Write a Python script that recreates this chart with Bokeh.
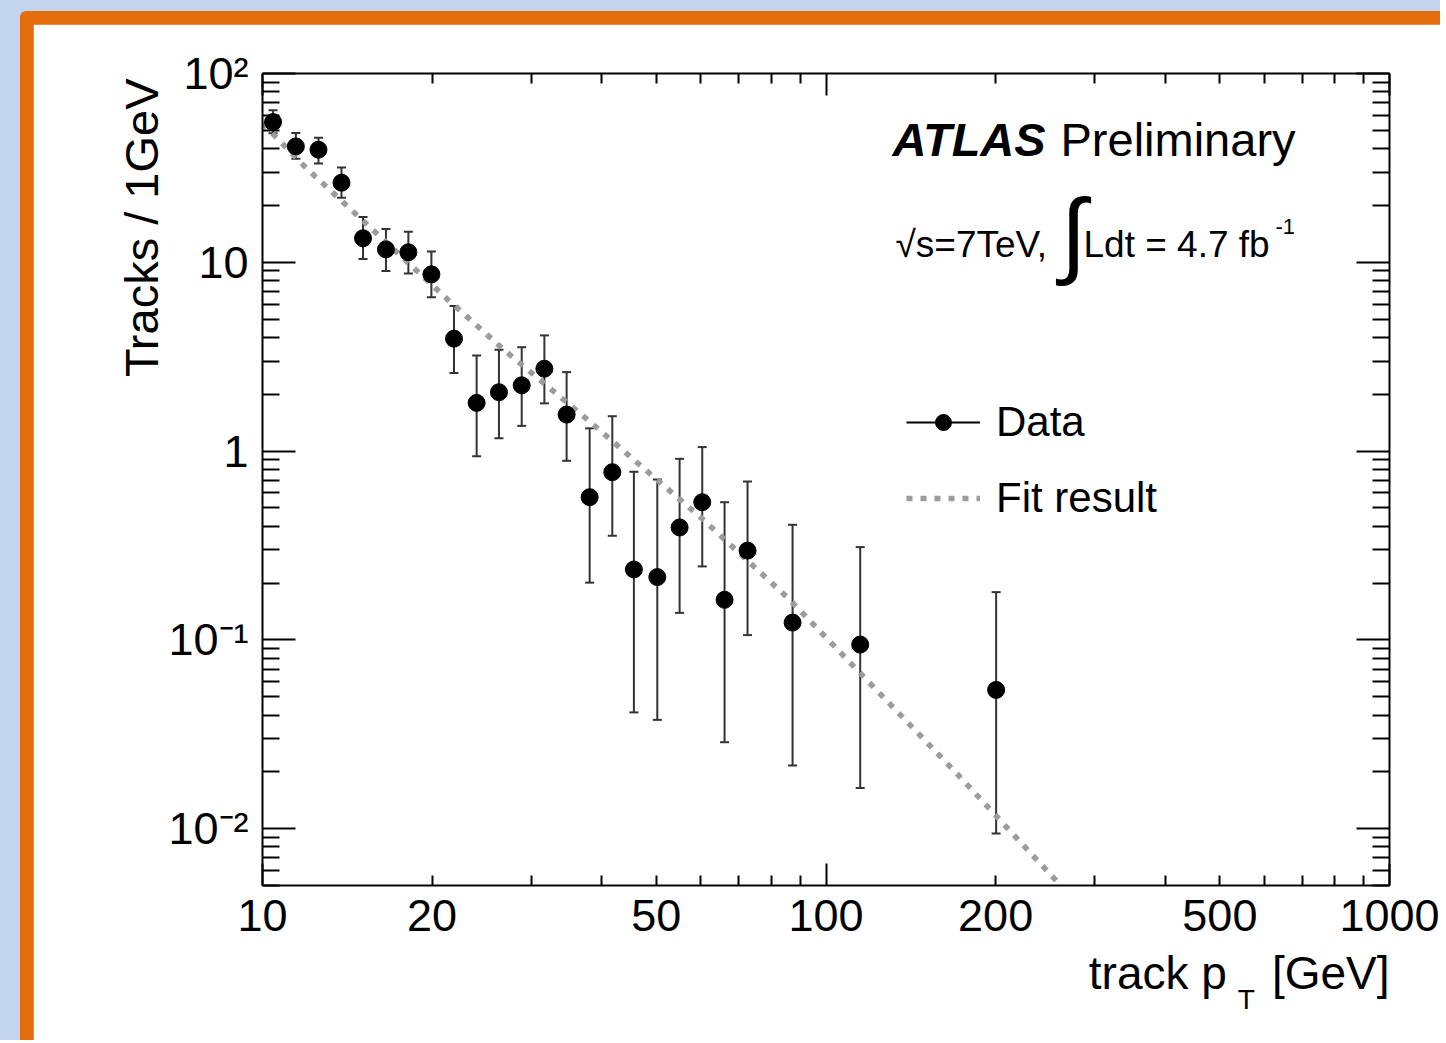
from bokeh.plotting import figure
from bokeh.models import (ColumnDataSource, Whisker, TeeHead, Legend, LegendItem,
                          Label, LogAxis, FixedTicker, Column, Title)
from bokeh.embed import file_html
from bokeh.resources import INLINE

# values
pt = [10.44, 11.46, 12.57, 13.81, 15.08, 16.56, 18.15, 19.94, 21.87, 23.99, 26.28, 28.84,
      31.64, 34.65, 38.07, 41.76, 45.61, 50.19, 54.98, 60.31, 66.07, 72.57, 87.23, 115.0, 200.4]
tracks = [55.3, 41.1, 39.5, 26.4, 13.4, 11.7, 11.3, 8.63, 3.94, 1.80, 2.05, 2.23,
          2.73, 1.56, 0.570, 0.773, 0.236, 0.215, 0.394, 0.536, 0.163, 0.297, 0.1235, 0.0944, 0.0543]
err_up = [63.8, 48.4, 45.7, 31.8, 17.4, 15.0, 14.5, 11.4, 5.86, 3.21, 3.44, 3.55,
          4.10, 2.62, 1.32, 1.53, 0.777, 0.707, 0.910, 1.05, 0.536, 0.690, 0.407, 0.31, 0.179]
err_down = [48.2, 35.4, 33.4, 22.0, 10.4, 8.98, 8.73, 6.52, 2.59, 0.94, 1.17, 1.36,
            1.79, 0.888, 0.201, 0.356, 0.0413, 0.0377, 0.139, 0.245, 0.0287, 0.106, 0.0216, 0.0164, 0.00944]

fit_pt = [10.0, 11.9, 21.4, 27.0, 37.6, 60.3, 85.9, 170.9, 257.8, 275.0]
fit_tracks = [54.5, 32.0, 6.28, 3.38, 1.48, 0.438, 0.165, 0.0195, 0.0052, 0.0041]

x_ticks = [10, 20, 50, 100, 200, 500, 1000]
x_tick_labels = ["10", "20", "50", "100", "200", "500", "1000"]
x_decades = [10, 100, 1000]
y_ticks = [0.01, 0.1, 1, 10, 100]
y_tick_labels = ["10\u207b\u00b2", "10\u207b\u00b9", "1", "10", "10\u00b2"]

FONT = "Liberation Sans"
x_minor = [m * d for d in [10, 100] for m in range(2, 10)]
y_minor = [m * d for d in [0.001, 0.01, 0.1, 1, 10] for m in range(2, 10)]

p = figure(width=1407, height=1016, x_axis_type="log", y_axis_type="log",
           x_range=(10, 1000), y_range=(0.005, 100),
           output_backend="svg", toolbar_location=None,
           min_border_left=229, min_border_right=51, min_border_top=49, min_border_bottom=155,
           border_fill_color="white", background_fill_color="white",
           margin=(13, 0, 0, 13))
p.grid.visible = False
p.outline_line_color = None


def tick_style(ax, major_len, minor_len):
    ax.axis_line_width = 2
    ax.axis_line_color = "black"
    ax.major_tick_in = major_len
    ax.major_tick_out = 0
    ax.minor_tick_in = minor_len
    ax.minor_tick_out = 0
    ax.major_tick_line_width = 2
    ax.minor_tick_line_width = 2
    ax.major_tick_line_color = "black"
    ax.minor_tick_line_color = "black"


def no_labels(ax):
    ax.major_label_text_font_size = "1px"
    ax.major_label_text_alpha = 0
    ax.major_label_standoff = 0


def text_axis(ticks, labels, size, standoff):
    # an axis with no line or ticks, used only to hold text below the frame
    return LogAxis(ticker=FixedTicker(ticks=ticks), axis_line_color=None,
                   major_tick_line_color=None, minor_tick_line_color=None,
                   major_tick_in=0, major_tick_out=0,
                   major_label_overrides=dict(zip(ticks, labels)),
                   major_label_text_font=FONT, major_label_text_font_size=f"{size}px",
                   major_label_text_color="black", major_label_standoff=standoff)


# bottom: ticks
xb = p.xaxis[0]
xb.ticker = FixedTicker(ticks=x_decades, minor_ticks=x_minor)
tick_style(xb, 22, 10)
no_labels(xb)

# bottom: tick labels, then the axis title "track p_T [GeV]"
p.add_layout(text_axis(x_ticks, x_tick_labels, 45, 14), "below")
p.add_layout(text_axis([388.1, 786.6], ["track p", "[GeV]"], 46, 13), "below")
p.add_layout(text_axis([556.8], ["T"], 28, -18), "below")

# top mirror
xt = LogAxis(ticker=FixedTicker(ticks=x_decades, minor_ticks=x_minor))
tick_style(xt, 22, 10)
no_labels(xt)
p.add_layout(xt, "above")

# left
yl = p.yaxis[0]
yl.ticker = FixedTicker(ticks=y_ticks, minor_ticks=y_minor)
tick_style(yl, 33, 17)
yl.major_label_overrides = dict(zip(y_ticks, y_tick_labels))
yl.major_label_text_font = FONT
yl.major_label_text_font_size = "45px"
yl.major_label_text_color = "black"
yl.major_label_standoff = 14

p.add_layout(Title(text="Tracks / 1GeV", align="right", offset=5, standoff=-5,
                   text_font=FONT, text_font_size="47px", text_font_style="normal",
                   text_color="black"), "left")

# right mirror
yr = LogAxis(ticker=FixedTicker(ticks=y_ticks, minor_ticks=y_minor))
tick_style(yr, 33, 17)
no_labels(yr)
p.add_layout(yr, "right")

# fit
fit = p.line(fit_pt, fit_tracks, line_color="#9c9c9c", line_width=5.5,
             line_dash="6 8", line_cap="butt")

# data
src = ColumnDataSource(dict(pt=pt, tracks=tracks, up=err_up, down=err_down))
p.add_layout(Whisker(source=src, base="pt", upper="up", lower="down", dimension="height",
                     line_color="#333333", line_width=2,
                     upper_head=TeeHead(size=9, line_width=2, line_color="#333333"),
                     lower_head=TeeHead(size=9, line_width=2, line_color="#333333")))
dots = p.scatter("pt", "tracks", source=src, size=17, fill_color="black", line_color="black")
data_line = p.line([float("nan")], [float("nan")], line_color="black", line_width=2)

legend = Legend(items=[LegendItem(label="Data", renderers=[data_line, dots]),
                       LegendItem(label="Fit result", renderers=[fit])],
                location=(644, 363), label_text_font=FONT, label_text_font_size="42px",
                label_text_color="black",
                glyph_width=74, glyph_height=40, label_height=40, label_standoff=16,
                spacing=28, padding=0, margin=0, border_line_color=None,
                background_fill_alpha=0)
p.add_layout(legend)


def text(t, x, y, size, **kw):
    p.add_layout(Label(x=x, y=y, x_units="screen", y_units="screen", text=t,
                       text_font=FONT, text_font_size=f"{size}px", text_color="black",
                       text_baseline="middle", **kw))


text("ATLAS", 630, 746, 47, text_font_style="bold italic")
text("Preliminary", 798, 746, 47)
text("\u221as=7TeV,", 633, 641, 37)
text("\u222b", 798, 653, 95)
text("Ldt = 4.7 fb", 821, 641, 37)
text("-1", 1013, 659, 22)

# slide: orange frame on a blue background
slide = Column(children=[p], margin=(11, 0, 0, 20),
               styles={"background-color": "#e46c0a", "border-top-left-radius": "6px"})
page = Column(children=[slide], styles={"background-color": "#c3d4ef"})

open("out.html", "w").write(file_html(page, INLINE))
